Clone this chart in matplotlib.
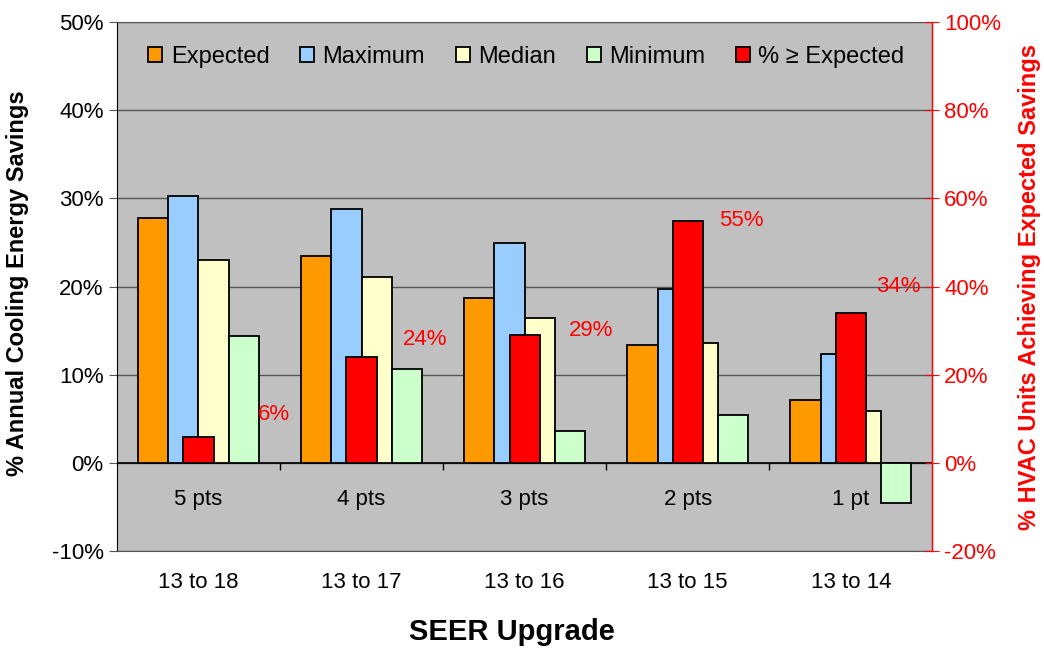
import numpy as np
import matplotlib.pyplot as plt
from matplotlib.ticker import PercentFormatter
from matplotlib.patches import Patch

plt.rcParams['font.family'] = ['Liberation Sans', 'DejaVu Sans']
plt.rcParams['axes.unicode_minus'] = False

# ---------------------------------------------------
# Data
# ---------------------------------------------------
upgrades = ['13 to 18', '13 to 17', '13 to 16', '13 to 15', '13 to 14']
points = ['5 pts', '4 pts', '3 pts', '2 pts', '1 pt']

expected = [27.8, 23.5, 18.7, 13.4, 7.1]
maximum = [30.3, 28.8, 25.0, 19.7, 12.4]
median = [23.0, 21.1, 16.4, 13.6, 5.9]
minimum = [14.4, 10.7, 3.6, 5.4, -4.5]
pct_achieving = [6, 24, 29, 55, 34]          # right axis

# label offsets for the red data labels (category units, right-axis %)
label_dx = [0.46, 0.39, 0.41, 0.33, 0.29]
label_dy = [5.0, 4.0, 1.0, 0.0, 6.0]

colors = {
    'Expected': '#FF9900',
    'Maximum': '#99CCFF',
    'Median': '#FFFFCC',
    'Minimum': '#CCFFCC',
    '% ≥ Expected': '#FF0000',
}

fig = plt.figure(figsize=(10.44, 6.5), dpi=100)
ax = fig.add_axes([0.112, 0.152, 0.781, 0.814])
ax.set_facecolor('#C0C0C0')

x = np.arange(len(upgrades))
w = 0.185

left_series = [('Expected', expected), ('Maximum', maximum),
               ('Median', median), ('Minimum', minimum)]
for i, (name, vals) in enumerate(left_series):
    ax.bar(x + (i - 1.5) * w, vals, width=w, color=colors[name],
           edgecolor='black', linewidth=1.3, zorder=3)

ax.set_xlim(-0.5, len(upgrades) - 0.5)
ax.set_ylim(-10, 50)
ax.set_yticks(np.arange(-10, 51, 10))
ax.yaxis.set_major_formatter(PercentFormatter(decimals=0))
ax.grid(axis='y', color='#555555', linewidth=1.0, zorder=1)
ax.axhline(0, color='black', linewidth=1.2, zorder=2)

# small tick marks between categories on the 0 line
ax.vlines(x[:-1] + 0.5, -0.8, 0, color='black', linewidth=1.0, zorder=2)

# inner category labels
for xi, p in zip(x, points):
    ax.text(xi, -4.1, p, ha='center', va='center', fontsize=16, zorder=4)

ax.set_xticks(x)
ax.set_xticklabels(upgrades, fontsize=16)
ax.tick_params(axis='x', length=0, pad=15)
ax.tick_params(axis='y', labelsize=16, direction='out', length=6, color='#555555')
for s in ['top', 'right', 'bottom']:
    ax.spines[s].set_color('#555555')
ax.spines['left'].set_color('black')

# secondary axis: % of units achieving expected savings
ax2 = ax.twinx()
ax2.bar(x, pct_achieving, width=w, color=colors['% ≥ Expected'],
        edgecolor='black', linewidth=1.3, zorder=3)
ax2.set_ylim(-20, 100)
ax2.set_yticks(np.arange(-20, 101, 20))
ax2.yaxis.set_major_formatter(PercentFormatter(decimals=0))
ax2.tick_params(axis='y', colors='red', labelsize=16, direction='inout', length=10)
ax2.spines['right'].set_color('red')
ax2.spines['right'].set_linewidth(1.0)
for s in ['top', 'left', 'bottom']:
    ax2.spines[s].set_visible(False)

for xi, v, dx, dy in zip(x, pct_achieving, label_dx, label_dy):
    ax2.text(xi + dx, v + dy, f'{v}%', color='red', fontsize=16,
             ha='center', va='center')

handles = [Patch(facecolor=c, edgecolor='black', linewidth=1.3) for c in colors.values()]
leg = ax2.legend(handles, list(colors.keys()), ncol=5, loc='center',
                 bbox_to_anchor=(0.502, 0.934), frameon=False, fontsize=17,
                 handlelength=0.6, handleheight=0.6, handletextpad=0.35,
                 columnspacing=1.3)

fig.text(0.017, 0.565, '% Annual Cooling Energy Savings', rotation=90,
         ha='center', va='center', fontsize=17, fontweight='bold')
fig.text(0.986, 0.558, '% HVAC Units Achieving Expected Savings', rotation=90,
         ha='center', va='center', fontsize=17, fontweight='bold', color='red')
fig.text(0.49, 0.028, 'SEER Upgrade', ha='center', va='center',
         fontsize=21, fontweight='bold')

fig.savefig('out.png', dpi=100)
